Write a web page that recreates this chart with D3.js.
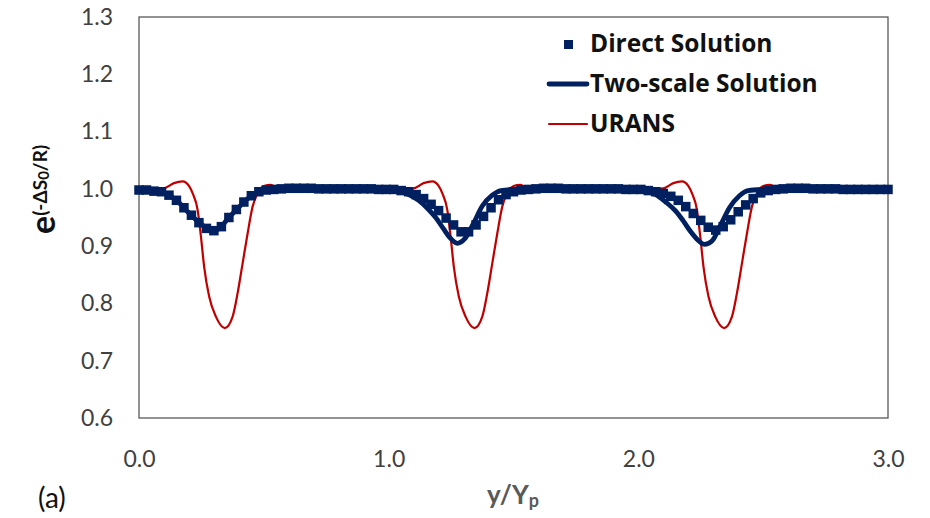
<!DOCTYPE html>
<html>
<head>
<meta charset="utf-8">
<script src="https://cdn.jsdelivr.net/npm/d3@7"></script>
<style>
  html, body { margin: 0; padding: 0; background: #fff; }
  svg { display: block; }
</style>
</head>
<body>
<svg id="chart" width="930" height="518"></svg>
<script>
// ---------------- data ----------------
const xTicks = [0.0, 1.0, 2.0, 3.0];
const yTicks = [0.6, 0.7, 0.8, 0.9, 1.0, 1.1, 1.2, 1.3];

const seriesNames = ["Direct Solution", "Two-scale Solution", "URANS"];

// Direct Solution (square markers)
const directX = [0.00,0.03,0.06,0.09,0.12,0.15,0.18,0.21,0.24,0.27,0.30,0.33,0.36,0.39,0.42,0.45,0.48,0.51,0.54,0.57,
  0.60,0.63,0.66,0.69,0.72,0.75,0.78,0.81,0.84,0.87,0.90,0.93,0.96,0.99,1.02,1.05,1.08,1.11,1.14,1.17,
  1.20,1.23,1.26,1.29,1.32,1.35,1.38,1.41,1.44,1.47,1.50,1.53,1.56,1.59,1.62,1.65,1.68,1.71,1.74,1.77,
  1.80,1.83,1.86,1.89,1.92,1.95,1.98,2.01,2.04,2.07,2.10,2.13,2.16,2.19,2.22,2.25,2.28,2.31,2.34,2.37,
  2.40,2.43,2.46,2.49,2.52,2.55,2.58,2.61,2.64,2.67,2.70,2.73,2.76,2.79,2.82,2.85,2.88,2.91,2.94,2.97,3.00];
const directY = [0.998,0.998,0.996,0.995,0.989,0.980,0.967,0.954,0.941,0.931,0.927,0.934,0.950,0.964,0.977,0.988,0.995,0.998,0.999,1.000,
  1.001,1.001,1.001,1.001,1.000,1.000,1.000,1.000,1.000,1.000,1.000,1.000,0.999,0.999,0.999,0.997,0.995,0.990,0.983,0.973,
  0.962,0.949,0.937,0.925,0.925,0.937,0.952,0.967,0.981,0.990,0.995,0.998,0.999,1.000,1.001,1.001,1.001,1.000,1.000,1.000,
  1.000,1.000,1.000,1.000,1.000,0.999,0.999,0.999,0.997,0.995,0.992,0.987,0.980,0.969,0.957,0.945,0.933,0.928,0.934,0.946,
  0.960,0.972,0.983,0.993,0.997,0.999,1.000,1.001,1.001,1.001,1.000,1.000,1.000,1.000,0.999,0.999,0.999,0.999,0.999,0.999,0.999];

// Two-scale Solution (thick line)
const twoScaleX = [0.00,0.05,0.10,0.15,0.20,0.25,0.29,0.32,0.35,0.40,0.45,0.50,0.55,0.60,0.70,0.80,0.90,1.00,
  1.04,1.08,1.12,1.16,1.19,1.22,1.245,1.275,1.305,1.34,1.375,1.415,1.45,1.50,1.60,1.70,1.80,1.90,2.00,
  2.03,2.07,2.11,2.15,2.18,2.21,2.24,2.265,2.295,2.33,2.365,2.405,2.44,2.50,2.60,2.70,2.80,2.90,3.00];
const twoScaleY = [0.998,0.997,0.993,0.980,0.958,0.938,0.928,0.930,0.945,0.968,0.988,0.997,0.999,1.000,1.001,1.000,1.000,0.999,
  0.996,0.990,0.980,0.964,0.949,0.930,0.915,0.905,0.913,0.940,0.970,0.989,0.997,0.999,1.000,1.001,1.000,1.000,0.999,
  0.996,0.990,0.977,0.961,0.944,0.925,0.910,0.903,0.909,0.937,0.967,0.988,0.997,0.999,1.000,1.001,1.000,1.000,0.999];

// URANS (thin red line)
const uransX = [0.00,0.05,0.10,0.14,0.175,0.20,0.215,0.235,0.248,0.261,0.281,0.308,0.344,0.375,0.395,0.415,0.435,0.455,0.475,0.50,0.528,0.555,0.60,0.80,1.00,
  1.05,1.10,1.14,1.175,1.20,1.215,1.235,1.248,1.261,1.281,1.308,1.344,1.375,1.395,1.415,1.435,1.455,1.475,1.50,1.528,1.555,1.60,1.80,2.00,
  2.05,2.10,2.14,2.175,2.20,2.215,2.235,2.248,2.261,2.281,2.308,2.344,2.375,2.395,2.415,2.435,2.455,2.475,2.50,2.528,2.555,2.60,2.80,3.00];
const uransY = [0.998,0.999,1.001,1.010,1.013,1.005,0.992,0.963,0.917,0.864,0.812,0.777,0.757,0.777,0.818,0.870,0.922,0.969,0.992,1.005,1.007,1.001,1.000,1.000,1.000,
  1.000,1.001,1.010,1.013,1.005,0.992,0.963,0.917,0.864,0.812,0.777,0.757,0.777,0.818,0.870,0.922,0.969,0.992,1.005,1.007,1.001,1.000,1.000,1.000,
  1.000,1.001,1.010,1.013,1.005,0.992,0.963,0.917,0.864,0.812,0.777,0.757,0.777,0.818,0.870,0.922,0.969,0.992,1.005,1.007,1.001,1.000,1.000,0.999];

// ---------------- drawing ----------------
const svg = d3.select("#chart");
const plotL = 139, plotR = 888, plotT = 17, plotB = 418;
const navy = "#002060", red = "#c00000";
const FONT = "Lato, 'Open Sans', sans-serif";
const BOLDFONT = "'Open Sans', Lato, sans-serif";

const x = d3.scaleLinear().domain([0, 3]).range([plotL, plotR]);
const y = d3.scaleLinear().domain([0.6, 1.3]).range([plotB, plotT]);

// plot frame
svg.append("rect")
  .attr("x", plotL).attr("y", plotT)
  .attr("width", plotR - plotL).attr("height", plotB - plotT)
  .attr("fill", "none").attr("stroke", "#595959").attr("stroke-width", 1.3);

// axes (labels only, no tick marks)
const yAxis = d3.axisLeft(y).tickValues(yTicks).tickFormat(d3.format(".1f")).tickSize(0).tickPadding(26);
const gy = svg.append("g").attr("transform", `translate(${plotL},0)`).call(yAxis);
gy.select(".domain").remove();
gy.selectAll("text").attr("font-family", FONT).attr("font-size", 23).attr("fill", "#404040");

const xAxis = d3.axisBottom(x).tickValues(xTicks).tickFormat(d3.format(".1f")).tickSize(0).tickPadding(33);
const gx = svg.append("g").attr("transform", `translate(0,${plotB})`).call(xAxis);
gx.select(".domain").remove();
gx.selectAll("text").attr("font-family", FONT).attr("font-size", 23).attr("fill", "#404040");

// series
const line = d3.line().x(d => x(d[0])).y(d => y(d[1])).curve(d3.curveMonotoneX);

const uransData = uransX.map((v, i) => [v, uransY[i]]);
const twoData = twoScaleX.map((v, i) => [v, twoScaleY[i]]);
const directData = directX.map((v, i) => [v, directY[i]]);

svg.append("path").datum(uransData)
  .attr("d", line).attr("fill", "none")
  .attr("stroke", red).attr("stroke-width", 2.2);

svg.append("path").datum(twoData)
  .attr("d", line).attr("fill", "none")
  .attr("stroke", navy).attr("stroke-width", 4.8).attr("stroke-linejoin", "round");

const ms = 9.5;
svg.append("g").selectAll("rect").data(directData).join("rect")
  .attr("x", d => x(d[0]) - ms / 2).attr("y", d => y(d[1]) - ms / 2)
  .attr("width", ms).attr("height", ms).attr("fill", navy);

// legend
const lg = svg.append("g");
const legendRows = [
  { name: seriesNames[0], type: "marker", yy: 44 },
  { name: seriesNames[1], type: "thick", yy: 84 },
  { name: seriesNames[2], type: "thin", yy: 124 }
];
legendRows.forEach(r => {
  if (r.type === "marker") {
    lg.append("rect").attr("x", 564).attr("y", r.yy - 4).attr("width", 9).attr("height", 9).attr("fill", navy);
  } else {
    lg.append("line").attr("x1", 549).attr("x2", 587).attr("y1", r.yy).attr("y2", r.yy)
      .attr("stroke", r.type === "thick" ? navy : red)
      .attr("stroke-width", r.type === "thick" ? 4.8 : 2.2)
      .attr("stroke-linecap", "round");
  }
  lg.append("text").attr("x", 590).attr("y", r.yy + 8)
    .attr("font-family", BOLDFONT).attr("font-weight", "bold").attr("font-size", 24.5)
    .attr("fill", "#111").text(r.name);
});

// y-axis title: e^(-ΔS0/R)
const yt = svg.append("text")
  .attr("transform", "translate(55,234) rotate(-90)")
  .attr("font-family", FONT).attr("font-weight", "bold").attr("fill", "#111");
yt.append("tspan").attr("font-size", 34).text("e");
yt.append("tspan").attr("font-size", 19).attr("dy", -8).text("(-ΔS");
yt.append("tspan").attr("font-size", 15).attr("dy", 2).text("0");
yt.append("tspan").attr("font-size", 19).attr("dy", -2).text("/R)");

// x-axis title: y/Yp
const xt = svg.append("text").attr("x", 513).attr("y", 504)
  .attr("text-anchor", "middle")
  .attr("font-family", FONT).attr("font-weight", "bold").attr("fill", "#595959");
xt.append("tspan").attr("font-size", 26).text("y/Y");
xt.append("tspan").attr("font-size", 18).attr("dy", 3).text("p");

// panel label
svg.append("text").attr("x", 38).attr("y", 508)
  .attr("font-family", FONT).attr("font-size", 28).attr("fill", "#111").text("(a)");
</script>
</body>
</html>
